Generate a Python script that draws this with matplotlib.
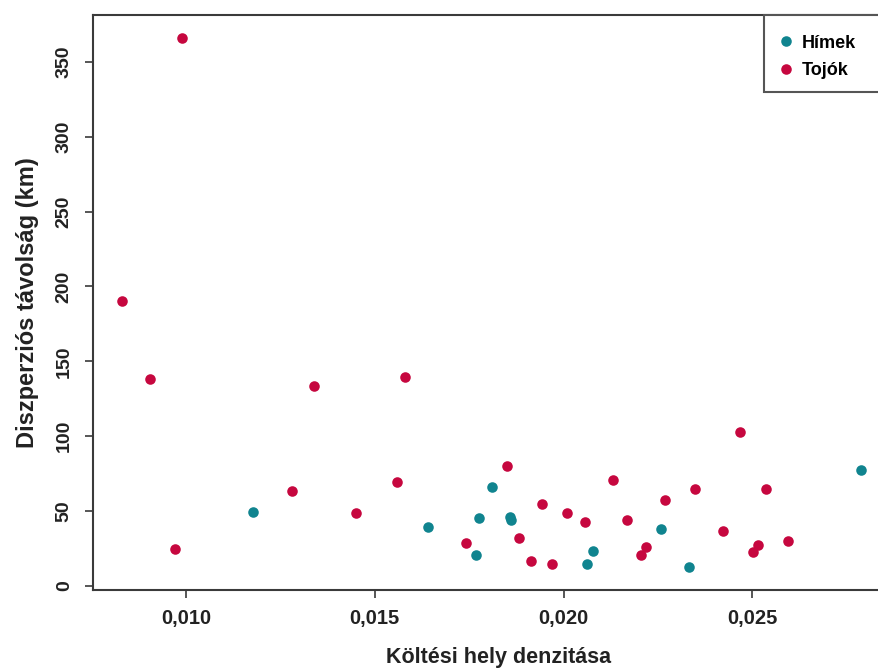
import matplotlib
matplotlib.use("Agg")
import matplotlib.pyplot as plt
from matplotlib.patches import Rectangle

# Data
himek_x = [0.011775, 0.01641, 0.017674, 0.017761, 0.018105, 0.018574, 0.018609,
           0.020773, 0.020622, 0.022582, 0.023331, 0.027872]
himek_y = [49.2, 39.2, 20.5, 45.2, 65.9, 46.3, 43.9, 23.4, 14.9, 38.1, 12.5, 77.2]

tojok_x = [0.009902, 0.008297, 0.009046, 0.013398, 0.015801, 0.009701, 0.012800,
           0.014503, 0.015581, 0.017409, 0.018495, 0.018813, 0.019422, 0.019146,
           0.019695, 0.020084, 0.020569, 0.021310, 0.021673, 0.022192, 0.022052,
           0.022680, 0.023474, 0.024674, 0.024232, 0.025371, 0.025151, 0.025019,
           0.025946]
tojok_y = [366.0, 190.5, 138.4, 133.5, 139.3, 24.7, 63.6, 48.9, 69.6, 28.9, 80.1,
           32.0, 54.5, 16.7, 14.7, 48.7, 42.5, 70.6, 44.1, 26.0, 20.5, 57.4, 64.6,
           103.0, 36.7, 64.6, 27.2, 22.7, 30.2]

x_ticks = [0.010, 0.015, 0.020, 0.025]
x_ticklabels = ["0,010", "0,015", "0,020", "0,025"]
y_ticks = [0, 50, 100, 150, 200, 250, 300, 350]
y_ticklabels = ["0", "50", "100", "150", "200", "250", "300", "350"]

series_labels = ["Hímek", "Tojók"]
teal = "#10848f"
red = "#c6073f"
axcol = "#3a3a3a"
txtcol = "#222222"

plt.rcParams['font.family'] = ['Liberation Sans', 'DejaVu Sans']

W, H = 879, 670
fig = plt.figure(figsize=(W / 100, H / 100), dpi=100)
left, right, top, bottom = 93, 905, 15, 590
ax = fig.add_axes([left / W, 1 - bottom / H, (right - left) / W, (bottom - top) / H])

ax.plot(himek_x, himek_y, 'o', color=teal, markersize=7.6, markeredgewidth=0, label=series_labels[0])
ax.plot(tojok_x, tojok_y, 'o', color=red, markersize=7.6, markeredgewidth=0, label=series_labels[1])

ax.set_xlim(0.007537, 0.010 + (right - 186) / 37753)
ax.set_ylim(-2.7, 381.2)

ax.set_xticks(x_ticks)
ax.set_xticklabels(x_ticklabels, fontsize=14.5, fontweight='bold', color=txtcol)
ax.set_yticks(y_ticks)
ax.set_yticklabels(y_ticklabels, fontsize=14, fontweight='bold', color=txtcol,
                   rotation=90, va='center')
ax.tick_params(direction='out', length=5.5, width=1.2, color=axcol, pad=8)
ax.tick_params(axis='y', pad=9)
for s in ax.spines.values():
    s.set_color(axcol)
    s.set_linewidth(1.5)

ax.set_xlabel("Költési hely denzitása", fontsize=15.5, fontweight='bold', color=txtcol, labelpad=14)
ax.set_ylabel("Diszperziós távolság (km)", fontsize=17, fontweight='bold', color=txtcol, labelpad=12)

# legend box extending off the right edge, as in the reference
rect = Rectangle((764 / W, 1 - 92 / H), (W + 20 - 764) / W, (92 - 15) / H,
                 transform=fig.transFigure, facecolor='white', edgecolor='#555555',
                 linewidth=1.5, zorder=5, clip_on=False)
fig.patches.append(rect)
leg = fig.legend(loc='upper left', bbox_to_anchor=(763 / W, 1 - 22 / H), frameon=False,
                 prop={'size': 13, 'weight': 'bold'}, handletextpad=0.25, handlelength=1.2,
                 labelspacing=0.6, borderpad=0.2)
leg.set_zorder(6)

fig.savefig("out.png", dpi=100)
